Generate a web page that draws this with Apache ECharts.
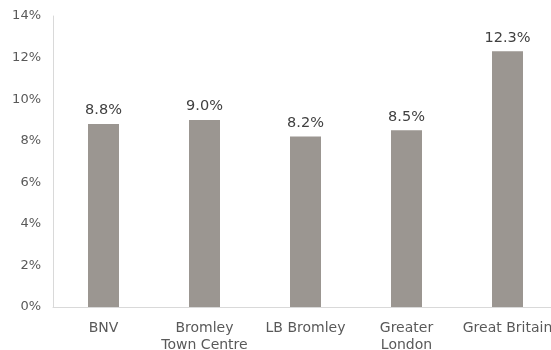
<!DOCTYPE html>
<html>
<head>
<meta charset="utf-8">
<script src="https://cdn.jsdelivr.net/npm/echarts@6/dist/echarts.min.js"></script>
<style>
  html, body { margin: 0; padding: 0; background: #fff; }
  #chart { width: 551px; height: 350px; }
</style>
</head>
<body>
<div id="chart"></div>
<script>
// Unemployment rate by area (%)
const categories = ['BNV', 'Bromley\nTown Centre', 'LB Bromley', 'Greater\nLondon', 'Great Britain'];
const rates = [8.8, 9.0, 8.2, 8.5, 12.3];
const yTicks = [0, 2, 4, 6, 8, 10, 12, 14];

const chart = echarts.init(document.getElementById('chart'));
chart.setOption({
  animation: false,
  textStyle: { fontFamily: 'DejaVu Sans' },
  grid: {
    left: 53, top: 16, width: 505, height: 291,
    containLabel: false, outerBoundsMode: 'none'
  },
  xAxis: {
    type: 'category',
    data: categories,
    axisLine: { lineStyle: { color: '#d9d9d9', width: 1 } },
    axisTick: { show: false },
    axisLabel: { color: '#595959', fontSize: 14, margin: 13, lineHeight: 17, interval: 0 }
  },
  yAxis: {
    type: 'value',
    min: yTicks[0],
    max: yTicks[yTicks.length - 1],
    interval: 2,
    axisLine: { show: true, lineStyle: { color: '#d9d9d9', width: 1 } },
    axisTick: { show: false },
    splitLine: { show: false },
    axisLabel: { color: '#595959', fontSize: 13, margin: 12, formatter: v => v + '%' }
  },
  series: [{
    type: 'bar',
    data: rates,
    barWidth: 31,
    itemStyle: { color: '#9b9691' },
    label: {
      show: true,
      position: 'top',
      distance: 6,
      color: '#404040',
      fontSize: 14.5,
      formatter: p => p.value.toFixed(1) + '%'
    }
  }]
});
</script>
</body>
</html>
